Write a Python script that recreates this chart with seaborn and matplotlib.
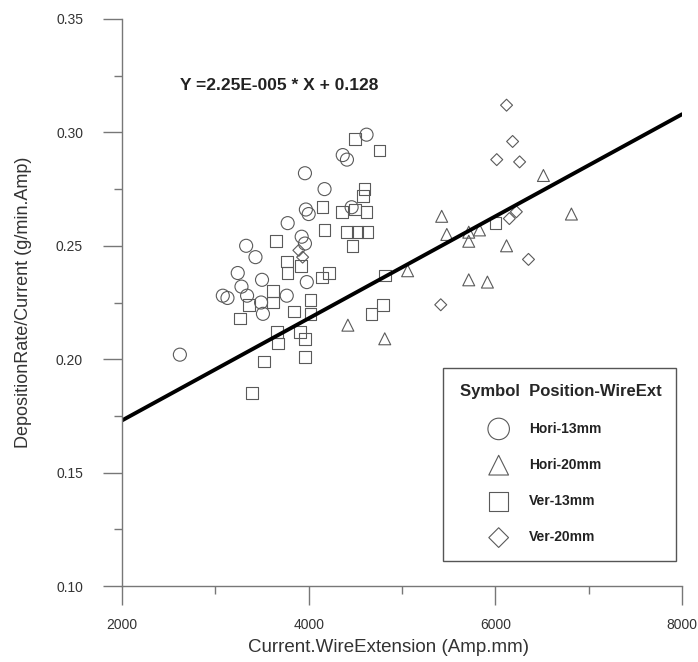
import numpy as np
import pandas as pd
import seaborn as sns
import matplotlib
matplotlib.use("Agg")
import matplotlib.pyplot as plt
from matplotlib.ticker import MultipleLocator, FormatStrFormatter

# values
hori13_x = [2620, 3080, 3130, 3240, 3330, 3430, 3280, 3340, 3500, 3490, 3510, 3765,
            3980, 3960, 3925, 3775, 3960, 4170, 3970, 4000, 4365, 4410, 4620, 4460]
hori13_y = [0.202, 0.228, 0.227, 0.238, 0.250, 0.245, 0.232, 0.228, 0.235, 0.225, 0.220, 0.228,
            0.234, 0.251, 0.254, 0.260, 0.282, 0.275, 0.266, 0.264, 0.290, 0.288, 0.299, 0.267]

hori20_x = [5425, 5480, 5715, 5715, 5830, 6120, 6515, 6815, 5715, 5915, 4420, 4815, 5060]
hori20_y = [0.263, 0.255, 0.256, 0.252, 0.257, 0.250, 0.281, 0.264, 0.235, 0.234, 0.215, 0.209, 0.239]

ver13_x = [3650, 3765, 3775, 3915, 4140, 4215, 3615, 3615, 3360, 3840, 4020, 4020, 3265,
           3660, 3670, 3905, 3960, 3520, 3960, 3390, 4495, 4760, 4600, 4580, 4150, 4355,
           4495, 4620, 4170, 4410, 4525, 4630, 4470, 4815, 4795, 4675, 6000]
ver13_y = [0.252, 0.243, 0.238, 0.241, 0.236, 0.238, 0.230, 0.225, 0.224, 0.221, 0.226, 0.220, 0.218,
           0.212, 0.207, 0.212, 0.209, 0.199, 0.201, 0.185, 0.297, 0.292, 0.275, 0.272, 0.267, 0.265,
           0.266, 0.265, 0.257, 0.256, 0.256, 0.256, 0.250, 0.237, 0.224, 0.220, 0.260]

ver20_x = [6120, 6185, 6015, 6260, 6150, 6225, 6355, 5415, 3895, 3935]
ver20_y = [0.312, 0.296, 0.288, 0.287, 0.262, 0.265, 0.244, 0.224, 0.248, 0.245]

groups = ["Hori-13mm", "Hori-20mm", "Ver-13mm", "Ver-20mm"]
slope = 2.25e-5
intercept = 0.128
line_x = np.array([2000, 8000])

df = pd.concat([
    pd.DataFrame({"x": hori13_x, "y": hori13_y, "group": groups[0]}),
    pd.DataFrame({"x": hori20_x, "y": hori20_y, "group": groups[1]}),
    pd.DataFrame({"x": ver13_x, "y": ver13_y, "group": groups[2]}),
    pd.DataFrame({"x": ver20_x, "y": ver20_y, "group": groups[3]}),
])

sns.set_style("ticks")
plt.rcParams["font.family"] = ["Liberation Sans", "DejaVu Sans"]

fig = plt.figure(figsize=(6.98, 6.62), dpi=100)
ax = fig.add_axes([0.1748, 0.1148, 0.8023, 0.8565])

marker_style = {"Hori-13mm": ("o", 88), "Hori-20mm": ("^", 74),
                "Ver-13mm": ("s", 69), "Ver-20mm": ("D", 37)}
for g in groups:
    m, s = marker_style[g]
    sns.scatterplot(data=df[df["group"] == g], x="x", y="y", marker=m, s=s,
                    facecolors="none", edgecolor="#5a5a5a", linewidth=0.8,
                    label=g, ax=ax)

sns.lineplot(x=line_x, y=slope * line_x + intercept, color="black", lw=2.8, ax=ax)

ax.set_xlim(2000, 8000)
ax.set_ylim(0.10, 0.35)
ax.xaxis.set_major_locator(MultipleLocator(2000))
ax.xaxis.set_minor_locator(MultipleLocator(1000))
ax.yaxis.set_major_locator(MultipleLocator(0.05))
ax.yaxis.set_minor_locator(MultipleLocator(0.025))
ax.yaxis.set_major_formatter(FormatStrFormatter("%.2f"))
for side in ["top", "right"]:
    ax.spines[side].set_visible(False)
for side in ["left", "bottom"]:
    ax.spines[side].set_color("#777777")
    ax.spines[side].set_linewidth(1.0)
ax.tick_params(which="major", direction="out", length=14, width=1.0, color="#777777")
ax.tick_params(which="minor", direction="out", length=6, width=1.0, color="#777777")
ax.tick_params(axis="y", which="major", pad=14)
ax.tick_params(axis="x", which="major", pad=9)
for lab in ax.get_xticklabels() + ax.get_yticklabels():
    lab.set_fontsize(10)
    lab.set_color("#333333")

ax.set_xlabel("Current.WireExtension (Amp.mm)", fontsize=13.5, color="#333333")
ax.set_ylabel("DepositionRate/Current (g/min.Amp)", fontsize=13, color="#333333")
ax.xaxis.set_label_coords(0.475, -0.093)
ax.yaxis.set_label_coords(-0.16, 0.5)

ax.text(2620, 0.3205, "Y =2.25E-005 * X + 0.128", fontsize=12.5, fontweight="bold",
        ha="left", va="center", color="#222222")

leg = ax.legend(loc="lower left", bbox_to_anchor=(0.561, 0.032, 0.441, 0.335),
                mode="expand", title="Symbol  Position-WireExt", alignment="left",
                title_fontproperties={"weight": "bold", "size": 12},
                prop={"weight": "bold", "size": 10}, markerscale=1.65,
                handlelength=5.6, handletextpad=-0.6, labelspacing=1.6,
                borderpad=1.2, fancybox=False, framealpha=1, edgecolor="#555555")
leg.get_frame().set_linewidth(1.0)
for t in leg.get_texts():
    t.set_color("#222222")

fig.savefig("out.png", dpi=100)
